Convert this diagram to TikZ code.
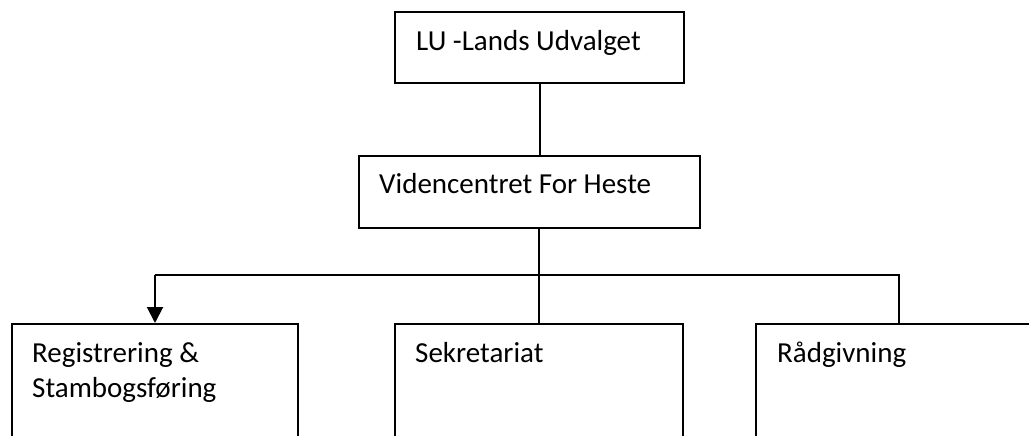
\documentclass[tikz,border=0pt]{standalone}
\usepackage{fontspec}
\setmainfont{Carlito}
\usetikzlibrary{arrows.meta}
\tikzset{
  x=1pt, y=-1pt,
  box/.style={draw=black, line width=2pt, anchor=north west, inner sep=0pt, minimum width=289pt},
  txt/.style={anchor=base west, inner sep=0pt, align=left, font=\fontsize{29}{35.5}\selectfont},
  conn/.style={draw=black, line width=2pt},
  arr/.style={conn, -{Triangle[width=16pt,length=16pt]}}
}
\begin{document}
\begin{tikzpicture}
\useasboundingbox (0,0) rectangle (1029,436);
\clip (0,0) rectangle (1029,436);
\fill[white] (0,0) rectangle (1029,436);
% boxes
\node[box, minimum height=71pt] (lu) at (394,11) {};
\node[box, minimum width=341pt, minimum height=72pt] (vc) at (358,155) {};
\node[box, minimum width=286pt, minimum height=150pt] (reg) at (11,323) {};
\node[box, minimum width=288pt, minimum height=150pt] (sek) at (394,323) {};
\node[box, minimum width=286pt, minimum height=150pt] (raad) at (755,323) {};
% texts
\node[txt] (lut) at (416,51) {LU -Lands Udvalget};
\node[txt] (vct) at (379,193) {Videncentret For Heste};
\node[txt] (regt) at (32,397.5) {Registrering \&\\Stambogsføring};
\node[txt] (sekt) at (415,362) {Sekretariat};
\node[txt] (raadt) at (777,362) {Rådgivning};
% connectors
\coordinate (bus) at (538,275);
\draw[conn] (lu.south) -- (lu.south |- vc.north);
\draw[conn] (sek.north |- vc.south) -- (sek.north);
\draw[conn] (reg.north |- bus) -- (raad.north |- bus) -- (raad.north);
\draw[arr] (reg.north |- bus) -- (reg.north);
\end{tikzpicture}
\end{document}
